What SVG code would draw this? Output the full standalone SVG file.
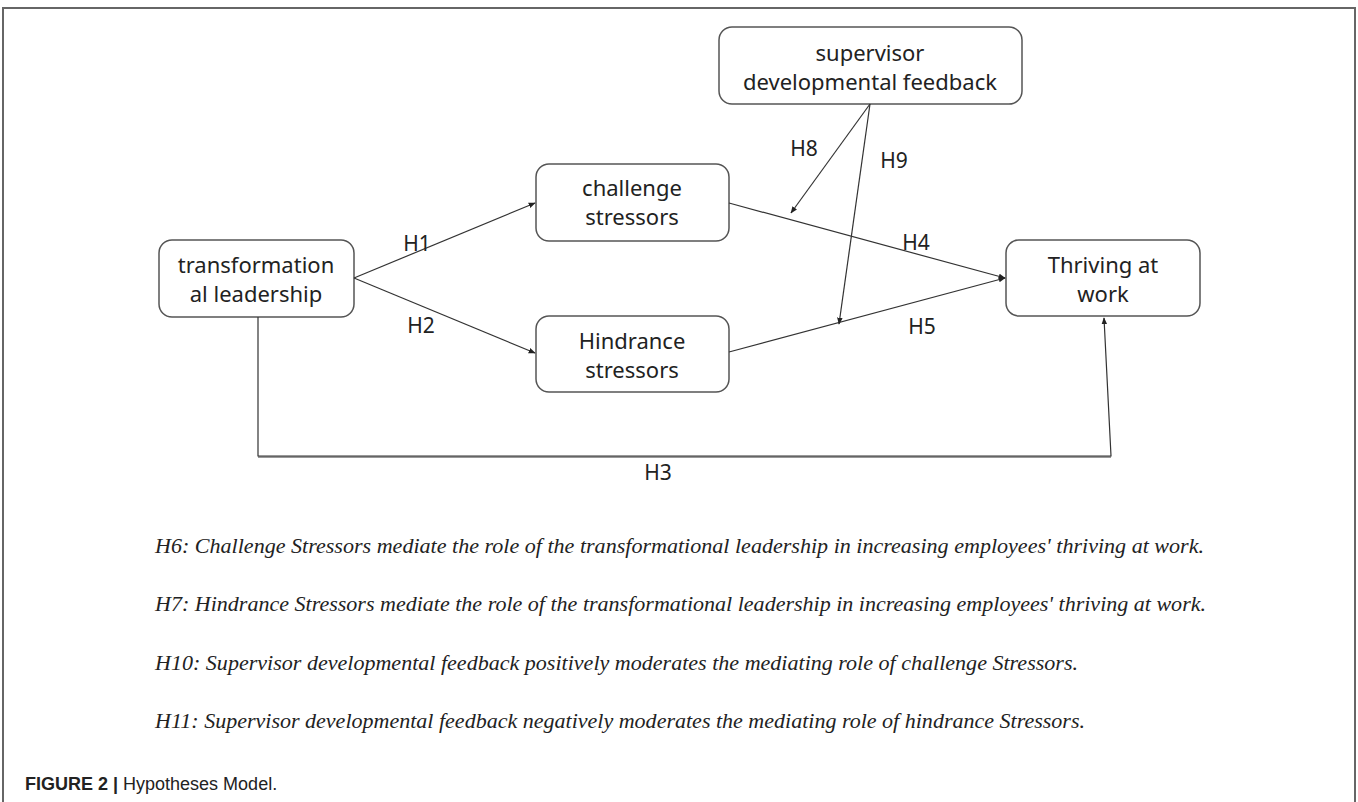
<svg xmlns="http://www.w3.org/2000/svg" width="1358" height="802" viewBox="0 0 1358 802">
<defs>
<marker id="arr" viewBox="0 0 10 10" refX="9" refY="5" markerWidth="7" markerHeight="7" markerUnits="userSpaceOnUse" orient="auto">
<path d="M0,1 L10,5 L0,9 z" fill="#222"/>
</marker>
<style>
.node rect{fill:#fff;stroke:#555;stroke-width:1.5}
.node text{font-family:"Noto Sans","Open Sans",sans-serif;font-size:22px;fill:#222;text-anchor:middle}
.conn line,.conn polyline{stroke:#333;stroke-width:1.2;fill:none}
.lbl{font-family:"Noto Sans","Open Sans",sans-serif;font-size:21px;fill:#222;text-anchor:middle}
.hyp{font-family:"Liberation Serif","Times New Roman",serif;font-style:italic;font-size:22px;fill:#222}
.cap{font-family:"Liberation Sans",Arial,sans-serif;font-size:18px;fill:#222}
</style>
</defs>
<rect x="0" y="0" width="1358" height="802" fill="#fff"/>
<polyline points="3,802 3,8 1355,8 1355,802" fill="none" stroke="#666" stroke-width="2"/>

<g id="supervisor" class="node">
<rect x="719" y="27" width="303" height="77" rx="13"/>
<text x="870" y="61">supervisor</text>
<text x="870" y="90">developmental feedback</text>
</g>
<g id="challenge" class="node">
<rect x="536" y="164" width="193" height="77" rx="13"/>
<text x="632" y="196">challenge</text>
<text x="632" y="225">stressors</text>
</g>
<g id="transformational" class="node">
<rect x="159" y="240" width="195" height="77" rx="13"/>
<text x="256" y="273">transformation</text>
<text x="256" y="302">al leadership</text>
</g>
<g id="thriving" class="node">
<rect x="1006" y="240" width="194" height="76" rx="13"/>
<text x="1103" y="273">Thriving at</text>
<text x="1103" y="302">work</text>
</g>
<g id="hindrance" class="node">
<rect x="536" y="316" width="193" height="76" rx="13"/>
<text x="632" y="349">Hindrance</text>
<text x="632" y="378">stressors</text>
</g>

<g id="connectors" class="conn">
<line x1="354" y1="278" x2="535" y2="203" marker-end="url(#arr)"/>
<line x1="354" y1="278" x2="535" y2="353" marker-end="url(#arr)"/>
<line x1="729" y1="203" x2="1005" y2="278" marker-end="url(#arr)"/>
<line x1="729" y1="352" x2="1005" y2="278" marker-end="url(#arr)"/>
<line x1="870" y1="104" x2="791" y2="213" marker-end="url(#arr)"/>
<line x1="870" y1="104" x2="839" y2="324" marker-end="url(#arr)"/>
<polyline points="258,317 258,456 1111,456 1104,318" marker-end="url(#arr)"/>
<line x1="258" y1="457" x2="1111" y2="457" stroke="#888" stroke-width="1"/>
</g>

<g id="labels">
<text class="lbl" x="417" y="251">H1</text>
<text class="lbl" x="421" y="333">H2</text>
<text class="lbl" x="916" y="250">H4</text>
<text class="lbl" x="922" y="334">H5</text>
<text class="lbl" x="804" y="156">H8</text>
<text class="lbl" x="894" y="168">H9</text>
<text class="lbl" x="658" y="480">H3</text>
</g>

<g id="hypotheses">
<text class="hyp" x="155" y="553" textLength="1049" lengthAdjust="spacingAndGlyphs">H6: Challenge Stressors mediate the role of the transformational leadership in increasing employees' thriving at work.</text>
<text class="hyp" x="155" y="611" textLength="1051" lengthAdjust="spacingAndGlyphs">H7: Hindrance Stressors mediate the role of the transformational leadership in increasing employees' thriving at work.</text>
<text class="hyp" x="155" y="670" textLength="923" lengthAdjust="spacingAndGlyphs">H10: Supervisor developmental feedback positively moderates the mediating role of challenge Stressors.</text>
<text class="hyp" x="155" y="728" textLength="930" lengthAdjust="spacingAndGlyphs">H11: Supervisor developmental feedback negatively moderates the mediating role of hindrance Stressors.</text>
</g>

<text class="cap" x="25" y="790"><tspan font-weight="bold">FIGURE 2 |</tspan> Hypotheses Model.</text>
</svg>
